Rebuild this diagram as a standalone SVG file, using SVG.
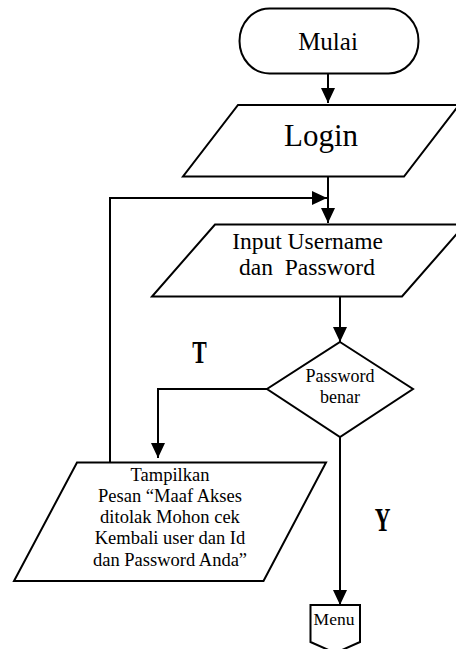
<svg xmlns="http://www.w3.org/2000/svg" width="456" height="649" viewBox="0 0 456 649">
<defs>
<style>
.shape{fill:#fff;stroke:#000;stroke-width:2;stroke-linejoin:miter}
.line{fill:none;stroke:#000;stroke-width:2}
.t{font-family:"Liberation Serif","Times New Roman",serif;fill:#000;text-anchor:middle}
.lbl{font-family:"Liberation Serif","Times New Roman",serif;font-weight:bold;fill:#000;text-anchor:middle}
</style>
<marker id="arr" markerUnits="userSpaceOnUse" markerWidth="16" markerHeight="16" refX="15" refY="7" orient="auto">
<path d="M0,0 L15,7 L0,14 Z" fill="#000"/>
</marker>
</defs>
<rect width="456" height="649" fill="#fff"/>
<g id="connectors">
<line class="line" x1="328" y1="73" x2="328" y2="103" marker-end="url(#arr)"/>
<line class="line" x1="328" y1="177" x2="328" y2="223" marker-end="url(#arr)"/>
<polyline class="line" points="110,462 110,198 327,198" marker-end="url(#arr)"/>
<line class="line" x1="340" y1="297" x2="340" y2="342" marker-end="url(#arr)"/>
<polyline class="line" points="267,389 158,389 158,458" marker-end="url(#arr)"/>
<line class="line" x1="340" y1="437" x2="340" y2="605" marker-end="url(#arr)"/>
</g>
<g id="mulai">
<rect class="shape" x="239.5" y="8.5" width="179" height="65" rx="30" ry="32.5"/>
<text class="t" x="328" y="50" font-size="25">Mulai</text>
</g>
<g id="login">
<polygon class="shape" points="238,105 459,105 404,176.5 183,176.5"/>
<text class="t" x="321" y="146" font-size="31">Login</text>
</g>
<g id="input">
<polygon class="shape" points="215,224.5 465,224.5 402,296.5 152,296.5"/>
<text class="t" x="307.5" y="249" font-size="23.5">Input Username</text>
<text class="t" x="307" y="275" font-size="23.5">dan&#160; Password</text>
</g>
<g id="decision">
<polygon class="shape" points="340,342 413,389 340,437 267,389"/>
<text class="t" x="340" y="382" font-size="18">Password</text>
<text class="t" x="340" y="403" font-size="18">benar</text>
</g>
<g id="message">
<polygon class="shape" points="77,462.5 326,462.5 263.5,581 14,581"/>
<text class="t" x="170" y="480.7" font-size="18.5">Tampilkan</text>
<text class="t" x="170" y="502.3" font-size="18.5">Pesan “Maaf Akses</text>
<text class="t" x="170" y="523.3" font-size="18.5">ditolak Mohon cek</text>
<text class="t" x="170" y="544.3" font-size="18.5">Kembali user dan Id</text>
<text class="t" x="170" y="565.7" font-size="18.5">dan Password Anda”</text>
</g>
<g id="menu">
<path class="shape" d="M310.5,605 L360,605 L360,642 L335.3,653 L310.5,642 Z"/>
<text class="t" x="334" y="625" font-size="17.5">Menu</text>
</g>
<g id="labels">
<text class="lbl" font-size="32" transform="translate(199.5,362.7) scale(0.68,1)">T</text>
<text class="lbl" font-size="33" transform="translate(382.5,531) scale(0.66,1)">Y</text>
</g>
</svg>
